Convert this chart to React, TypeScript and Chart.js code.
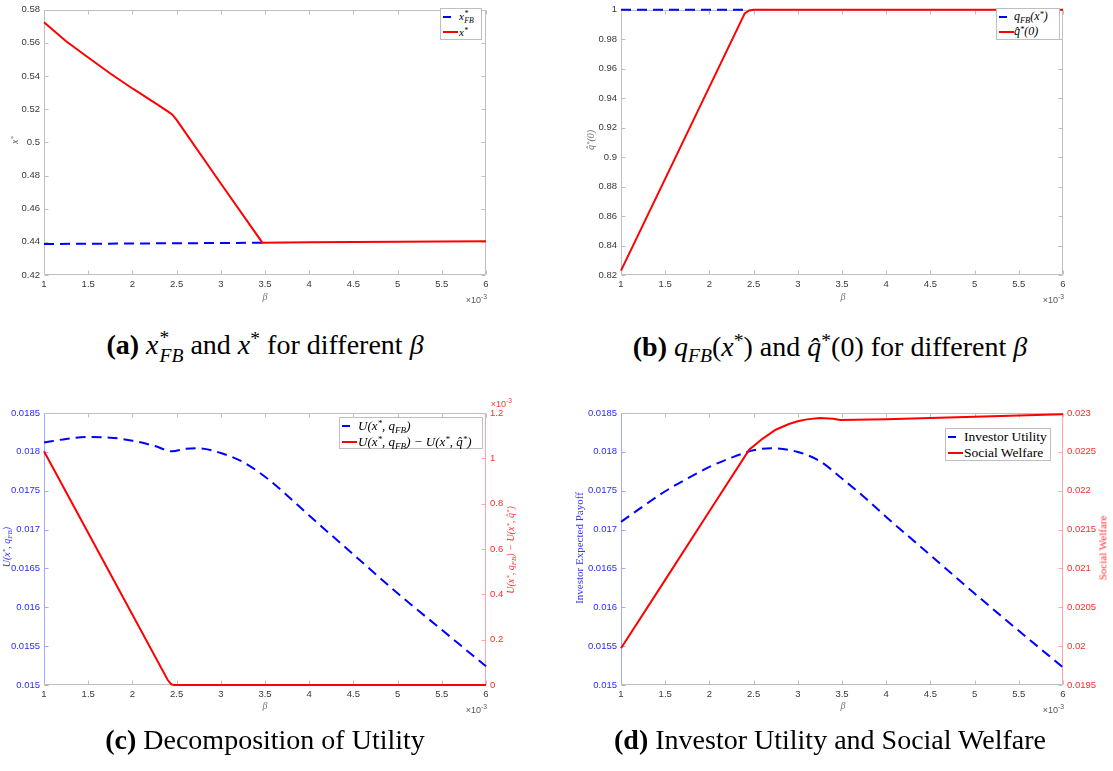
import React, { useEffect, useRef } from 'react';
import { Chart, registerables } from 'chart.js';

Chart.register(...registerables);

// ---------------- data (beta in units of 1e-3) ----------------
const xTicks = [1, 1.5, 2, 2.5, 3, 3.5, 4, 4.5, 5, 5.5, 6];

// (a)
const aYTicks = [0.42, 0.44, 0.46, 0.48, 0.5, 0.52, 0.54, 0.56, 0.58];
const aBetaXStar = [1, 1.25, 1.5, 1.75, 2, 2.25, 2.4, 2.45, 2.5, 3, 3.47, 4, 5, 6];
const aXStar = [0.5725, 0.561, 0.5512, 0.5415, 0.5325, 0.524, 0.5187, 0.5168, 0.5135, 0.4752, 0.4395, 0.4397, 0.44, 0.4404];
const aBetaXFB = [1, 2, 3, 3.47];
const aXFB = [0.4387, 0.439, 0.4393, 0.4395];

// (b)
const bYTicks = [0.82, 0.84, 0.86, 0.88, 0.9, 0.92, 0.94, 0.96, 0.98, 1];
const bBetaQHat = [1, 2.4, 2.45, 2.5, 3, 6];
const bQHat = [0.823, 0.9975, 0.9995, 1, 1, 1];
const bBetaQFB = [1, 2.45];
const bQFB = [1, 1];

// (c)
const cYTicks = [0.015, 0.0155, 0.016, 0.0165, 0.017, 0.0175, 0.018, 0.0185];
const cY2Ticks = [0, 0.2, 0.4, 0.6, 0.8, 1, 1.2];
const cBetaU = [1, 1.25, 1.5, 1.75, 2, 2.25, 2.45, 2.6, 2.75, 3, 3.25, 3.5, 3.75, 4, 4.5, 5, 5.5, 6];
const cU = [0.018119, 0.018166, 0.018191, 0.018183, 0.018144, 0.018076, 0.018007, 0.01804, 0.018045, 0.017985, 0.01787, 0.01768, 0.01744, 0.01718, 0.01668, 0.01618, 0.01571, 0.01524];
const cBetaDiff = [1, 2.4, 2.44, 2.47, 3, 6];
const cDiff = [1.031, 0.022, 0.003, 0, 0, 0]; // x 1e-3

// (d)
const dYTicks = [0.015, 0.0155, 0.016, 0.0165, 0.017, 0.0175, 0.018, 0.0185];
const dY2Ticks = [0.0195, 0.02, 0.0205, 0.021, 0.0215, 0.022, 0.0225, 0.023];
const dBetaInv = [1, 1.25, 1.5, 1.75, 2, 2.25, 2.5, 2.7, 3, 3.25, 3.5, 3.75, 4, 4.5, 5, 5.5, 6];
const dInv = [0.017099, 0.0173, 0.017493, 0.017656, 0.017806, 0.017926, 0.01802, 0.018046, 0.017999, 0.01788, 0.017656, 0.01742, 0.017163, 0.01667, 0.016178, 0.015698, 0.015227];
const dBetaSW = [1, 1.5, 2, 2.45, 2.6, 2.75, 2.9, 3, 3.1, 3.25, 3.4, 3.48, 4, 5, 6];
const dSW = [0.019972, 0.020853, 0.021735, 0.022528, 0.022668, 0.022785, 0.022858, 0.022893, 0.022918, 0.022936, 0.022927, 0.02291, 0.022918, 0.022953, 0.022983];

// ---------------- styling ----------------
const SANS = '"Liberation Sans", Arial, Helvetica, sans-serif';
const SERIF = '"Liberation Serif", "Times New Roman", serif';
const BLUE = '#0000ff';
const RED = '#ff0000';
const BOX = '#bfbfbf';
const TICKTXT = '#383838';

const pts = (xs: number[], ys: number[]) => xs.map((x, i) => ({ x, y: ys[i] }));
const fmt = (v: any) => String(Number(Number(v).toFixed(6)));

const boxPlugin = {
  id: 'mbox',
  beforeDatasetsDraw(chart: any) {
    const o = chart.options.plugins.mbox || {};
    const { ctx, chartArea: a } = chart;
    const L = Math.round(a.left) + 0.5;
    const R = Math.round(a.right) - 0.5;
    const T = Math.round(a.top) + 0.5;
    const B = Math.round(a.bottom) - 0.5;
    ctx.save();
    ctx.lineWidth = 1;
    const seg = (x1: number, y1: number, x2: number, y2: number, c: string) => {
      ctx.strokeStyle = c;
      ctx.beginPath();
      ctx.moveTo(x1, y1);
      ctx.lineTo(x2, y2);
      ctx.stroke();
    };
    const tl = 4;
    const xs = chart.scales.x;
    xs.ticks.forEach((t: any) => {
      const px = Math.round(xs.getPixelForValue(t.value)) + 0.5;
      seg(px, B, px, B - tl, BOX);
      seg(px, T, px, T + tl, BOX);
    });
    const ys = chart.scales.y;
    const y2 = chart.scales.y2;
    ys.ticks.forEach((t: any) => {
      const py = Math.round(ys.getPixelForValue(t.value)) + 0.5;
      seg(L, py, L + tl, py, o.left || BOX);
      if (!y2) seg(R, py, R - tl, py, o.right || BOX);
    });
    if (y2) {
      y2.ticks.forEach((t: any) => {
        const py = Math.round(y2.getPixelForValue(t.value)) + 0.5;
        seg(R, py, R - tl, py, o.right || BOX);
      });
    }
    seg(L, T, R, T, BOX);
    seg(L, B, R, B, BOX);
    seg(L, T, L, B, o.left || BOX);
    seg(R, T, R, B, o.right || BOX);
    ctx.restore();
  },
};

type AxisSpec = { min: number; max: number; ticks: number[]; color: string };
type PanelSpec = {
  W: number;
  H: number;
  area: { left: number; top: number; right: number; bottom: number };
  datasets: any[];
  y: AxisSpec;
  y2?: AxisSpec;
  leftColor: string;
  rightColor: string;
};

function makeConfig(p: PanelSpec): any {
  const tickFont = { family: SANS, size: 9.5 };
  const scales: any = {
    x: {
      type: 'linear',
      min: 1,
      max: 6,
      afterBuildTicks: (s: any) => {
        s.ticks = xTicks.map((v) => ({ value: v }));
      },
      ticks: { font: tickFont, color: TICKTXT, padding: 4, maxRotation: 0, autoSkip: false, callback: fmt },
      grid: { display: false, drawTicks: false },
      border: { display: false },
      afterFit: (s: any) => {
        s.height = p.H - p.area.bottom;
      },
    },
    y: {
      type: 'linear',
      position: 'left',
      min: p.y.min,
      max: p.y.max,
      afterBuildTicks: (s: any) => {
        s.ticks = p.y.ticks.map((v) => ({ value: v }));
      },
      ticks: { font: tickFont, color: p.y.color, padding: 4, autoSkip: false, callback: fmt },
      grid: { display: false, drawTicks: false },
      border: { display: false },
      afterFit: (s: any) => {
        s.width = p.area.left;
      },
    },
  };
  if (p.y2) {
    const y2 = p.y2;
    scales.y2 = {
      type: 'linear',
      position: 'right',
      min: y2.min,
      max: y2.max,
      afterBuildTicks: (s: any) => {
        s.ticks = y2.ticks.map((v) => ({ value: v }));
      },
      ticks: { font: tickFont, color: y2.color, padding: 4, autoSkip: false, callback: fmt },
      grid: { display: false, drawTicks: false },
      border: { display: false },
      afterFit: (s: any) => {
        s.width = p.W - p.area.right;
      },
    };
  }
  return {
    type: 'line',
    data: { datasets: p.datasets },
    plugins: [boxPlugin],
    options: {
      responsive: false,
      maintainAspectRatio: false,
      animation: false,
      devicePixelRatio: 1,
      layout: {
        padding: {
          left: 0,
          top: p.area.top,
          right: p.y2 ? 0 : p.W - p.area.right,
          bottom: 0,
        },
      },
      plugins: {
        legend: { display: false },
        tooltip: { enabled: false },
        mbox: { left: p.leftColor, right: p.rightColor },
      },
      scales,
    },
  };
}

const line = (xs: number[], ys: number[], color: string, dashed: boolean, axis = 'y', smooth = false) => ({
  data: pts(xs, ys),
  borderColor: color,
  backgroundColor: color,
  borderWidth: 2,
  borderDash: dashed ? [10, 6] : [],
  pointRadius: 0,
  fill: false,
  tension: smooth ? 0.4 : 0,
  cubicInterpolationMode: smooth ? 'monotone' : 'default',
  yAxisID: axis,
  clip: false,
});

const panels: { left: number; top: number; spec: PanelSpec }[] = [
  {
    left: 0,
    top: 0,
    spec: {
      W: 556,
      H: 312,
      area: { left: 44, top: 5, right: 486, bottom: 275 },
      datasets: [line(aBetaXStar, aXStar, RED, false), line(aBetaXFB, aXFB, BLUE, true)],
      y: { min: 0.42, max: 0.58, ticks: aYTicks, color: TICKTXT },
      leftColor: BOX,
      rightColor: BOX,
    },
  },
  {
    left: 556,
    top: 0,
    spec: {
      W: 557,
      H: 312,
      area: { left: 65, top: 4, right: 507, bottom: 275 },
      datasets: [line(bBetaQHat, bQHat, RED, false), line(bBetaQFB, bQFB, BLUE, true)],
      y: { min: 0.82, max: 1, ticks: bYTicks, color: TICKTXT },
      leftColor: BOX,
      rightColor: BOX,
    },
  },
  {
    left: 0,
    top: 380,
    spec: {
      W: 556,
      H: 330,
      area: { left: 44, top: 33, right: 486, bottom: 305 },
      datasets: [line(cBetaDiff, cDiff, RED, false, 'y2'), line(cBetaU, cU, BLUE, true, 'y', true)],
      y: { min: 0.015, max: 0.0185, ticks: cYTicks, color: '#2a2aff' },
      y2: { min: 0, max: 1.2, ticks: cY2Ticks, color: '#ff2a2a' },
      leftColor: '#a6a6ff',
      rightColor: '#ffa6a6',
    },
  },
  {
    left: 556,
    top: 380,
    spec: {
      W: 557,
      H: 330,
      area: { left: 65, top: 33, right: 507, bottom: 305 },
      datasets: [line(dBetaSW, dSW, RED, false, 'y2'), line(dBetaInv, dInv, BLUE, true, 'y', true)],
      y: { min: 0.015, max: 0.0185, ticks: dYTicks, color: '#2a2aff' },
      y2: { min: 0.0195, max: 0.023, ticks: dY2Ticks, color: '#ff2a2a' },
      leftColor: '#a6a6ff',
      rightColor: '#ffa6a6',
    },
  },
];

function Panel({ left, top, spec }: { left: number; top: number; spec: PanelSpec }) {
  const ref = useRef<HTMLCanvasElement | null>(null);
  useEffect(() => {
    if (!ref.current) return;
    const chart = new Chart(ref.current, makeConfig(spec));
    return () => chart.destroy();
  }, []);
  return (
    <canvas
      ref={ref}
      width={spec.W}
      height={spec.H}
      style={{ position: 'absolute', left, top, width: spec.W, height: spec.H }}
    />
  );
}

// ---------------- text helpers ----------------
type TxtProps = {
  x: number;
  y: number;
  size: number;
  color?: string;
  family?: string;
  rot?: boolean;
  align?: 'center' | 'left' | 'right';
  italic?: boolean;
  children: any;
};
function Txt({ x, y, size, color = '#000', family = SERIF, rot, align = 'center', italic, children }: TxtProps) {
  const tx = align === 'center' ? '-50%' : align === 'right' ? '-100%' : '0';
  return (
    <div
      style={{
        position: 'absolute',
        left: x,
        top: y,
        transform: `translate(${tx},-50%)${rot ? ' rotate(-90deg)' : ''}`,
        transformOrigin: rot ? 'center center' : undefined,
        fontSize: size,
        color,
        fontFamily: family,
        fontStyle: italic ? 'italic' : 'normal',
        whiteSpace: 'nowrap',
        lineHeight: 1.2,
      }}
    >
      {children}
    </div>
  );
}

const Sup = ({ children }: any) => (
  <span style={{ fontSize: '0.7em', verticalAlign: '0.45em', lineHeight: 0 }}>{children}</span>
);
const Sub = ({ children }: any) => (
  <span style={{ fontSize: '0.7em', verticalAlign: '-0.3em', lineHeight: 0 }}>{children}</span>
);
const SupSub = ({ sup, sub }: any) => (
  <span
    style={{
      display: 'inline-block',
      verticalAlign: '-0.42em',
      fontSize: '0.7em',
      lineHeight: '0.95em',
      marginLeft: '0.05em',
    }}
  >
    <span style={{ display: 'block' }}>{sup}</span>
    <span style={{ display: 'block' }}>{sub}</span>
  </span>
);
const QH = () => <i>q&#770;</i>;

const Exp = ({ x, y, color = '#555' }: { x: number; y: number; color?: string }) => (
  <Txt x={x} y={y} size={9} family={SANS} color={color} align="right">
    ×10<span style={{ fontSize: '0.75em', verticalAlign: '0.5em', lineHeight: 0 }}>-3</span>
  </Txt>
);

type Entry = { y: number; color: string; sw: number; label: any };
function Legend({ x, y, w, h, tx, entries, size, italic }: { x: number; y: number; w: number; h: number; tx: number; entries: Entry[]; size: number; italic?: boolean }) {
  return (
    <div
      style={{
        position: 'absolute',
        left: x,
        top: y,
        width: w,
        height: h,
        border: `1px solid ${BOX}`,
        background: '#fff',
        boxSizing: 'border-box',
      }}
    >
      {entries.map((e, i) => (
        <React.Fragment key={i}>
          <div
            style={{
              position: 'absolute',
              left: 2,
              top: e.y - 1,
              width: e.sw,
              height: 2,
              background: e.color,
            }}
          />
          <div
            style={{
              position: 'absolute',
              left: tx,
              top: e.y,
              transform: 'translateY(-50%)',
              fontFamily: SERIF,
              fontSize: size,
              fontStyle: italic ? 'italic' : 'normal',
              whiteSpace: 'nowrap',
              lineHeight: 1.1,
              color: '#000',
            }}
          >
            {e.label}
          </div>
        </React.Fragment>
      ))}
    </div>
  );
}

const CAP = 28;

export default function App() {
  return (
    <div
      style={{
        position: 'absolute',
        left: 0,
        top: 0,
        width: 1113,
        height: 771,
        background: '#fff',
        overflow: 'hidden',
      }}
    >
      {panels.map((p, i) => (
        <Panel key={i} left={p.left} top={p.top} spec={p.spec} />
      ))}

      {/* ---- panel (a) texts ---- */}
      <Txt x={15} y={140} size={10} color="#666" rot italic>
        x<Sup>*</Sup>
      </Txt>
      <Txt x={265} y={297} size={10} color="#777" italic>
        β
      </Txt>
      <Exp x={487} y={300} />
      <Legend
        x={440}
        y={8}
        w={42}
        h={32}
        tx={18}
        size={11}
        italic
        entries={[
          { y: 8, color: BLUE, sw: 8, label: <span>x<SupSub sup="*" sub="FB" /></span> },
          { y: 23, color: RED, sw: 15, label: <span>x<Sup>*</Sup></span> },
        ]}
      />
      <Txt x={265} y={347} size={CAP}>
        <b>(a)</b> <i>x</i>
        <SupSub sup="*" sub={<i>FB</i>} /> and <i>x</i>
        <Sup>*</Sup> for different <i>β</i>
      </Txt>

      {/* ---- panel (b) texts ---- */}
      <Txt x={591} y={140} size={10} color="#666" rot italic>
        <QH />
        <Sup>*</Sup>(0)
      </Txt>
      <Txt x={843} y={297} size={10} color="#777" italic>
        β
      </Txt>
      <Exp x={1064} y={300} />
      <Legend
        x={996}
        y={8}
        w={64}
        h={32}
        tx={17}
        size={12}
        italic
        entries={[
          {
            y: 8,
            color: BLUE,
            sw: 8,
            label: (
              <span>
                q<Sub>FB</Sub>(x<Sup>*</Sup>)
              </span>
            ),
          },
          {
            y: 23,
            color: RED,
            sw: 15,
            label: (
              <span>
                q&#770;<Sup>*</Sup>(0)
              </span>
            ),
          },
        ]}
      />
      <Txt x={830} y={347} size={CAP}>
        <b>(b)</b> <i>q</i>
        <Sub>
          <i>FB</i>
        </Sub>
        (<i>x</i>
        <Sup>*</Sup>) and <QH />
        <Sup>*</Sup>(0) for different <i>β</i>
      </Txt>

      {/* ---- panel (c) texts ---- */}
      <Txt x={7} y={547} size={10} color="#3333ff" rot italic>
        U(x<Sup>*</Sup>, q<Sub>FB</Sub>)
      </Txt>
      <Txt x={511} y={550} size={10} color="#ff3333" rot italic>
        U(x<Sup>*</Sup>, q<Sub>FB</Sub>) − U(x<Sup>*</Sup>, q&#770;<Sup>*</Sup>)
      </Txt>
      <Exp x={512} y={404} color="#ff3333" />
      <Txt x={265} y={706} size={10} color="#777" italic>
        β
      </Txt>
      <Exp x={487} y={710} />
      <Legend
        x={339}
        y={417}
        w={144}
        h={32}
        tx={18}
        size={13}
        italic
        entries={[
          {
            y: 8,
            color: BLUE,
            sw: 8,
            label: (
              <span>
                U(x<Sup>*</Sup>, q<Sub>FB</Sub>)
              </span>
            ),
          },
          {
            y: 24,
            color: RED,
            sw: 15,
            label: (
              <span>
                U(x<Sup>*</Sup>, q<Sub>FB</Sub>) − U(x<Sup>*</Sup>, q&#770;<Sup>*</Sup>)
              </span>
            ),
          },
        ]}
      />
      <Txt x={265} y={740} size={CAP}>
        <b>(c)</b> Decomposition of Utility
      </Txt>

      {/* ---- panel (d) texts ---- */}
      <Txt x={580} y={548} size={11} color="#3333ff" rot>
        Investor Expected Payoff
      </Txt>
      <Txt x={1103} y={548} size={11} color="#ff3333" rot>
        Social Welfare
      </Txt>
      <Txt x={843} y={706} size={10} color="#777" italic>
        β
      </Txt>
      <Exp x={1064} y={710} />
      <Legend
        x={945}
        y={428}
        w={106}
        h={33}
        tx={18}
        size={13.5}
        entries={[
          { y: 8, color: BLUE, sw: 8, label: 'Investor Utility' },
          { y: 24, color: RED, sw: 15, label: 'Social Welfare' },
        ]}
      />
      <Txt x={830} y={740} size={CAP}>
        <b>(d)</b> Investor Utility and Social Welfare
      </Txt>
    </div>
  );
}
